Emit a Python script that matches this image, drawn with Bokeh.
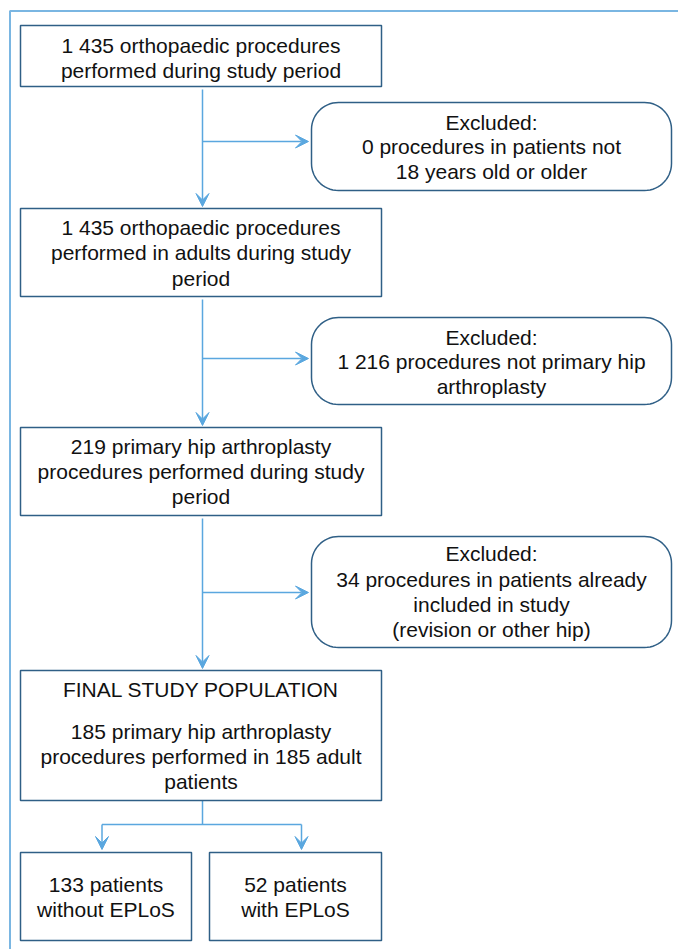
from bokeh.plotting import figure
from bokeh.models import Range1d, Arrow, VeeHead, ColumnDataSource
from bokeh.core.properties import value
from bokeh.embed import file_html
from bokeh.resources import INLINE
import numpy as np

# ---- content ----
main_texts = [
    ["1 435 orthopaedic procedures", "performed during study period"],
    ["1 435 orthopaedic procedures", "performed in adults during study", "period"],
    ["219 primary hip arthroplasty", "procedures performed during study", "period"],
    ["FINAL STUDY POPULATION", "", "185 primary hip arthroplasty", "procedures performed in 185 adult", "patients"],
]
excl_texts = [
    ["Excluded:", "0 procedures in patients not", "18 years old or older"],
    ["Excluded:", "1 216 procedures not primary hip", "arthroplasty"],
    ["Excluded:", "34 procedures in patients already", "included in study", "(revision or other hip)"],
]
split_texts = [
    ["133 patients", "without EPLoS"],
    ["52 patients", "with EPLoS"],
]

# ---- layout (page pixels) ----
main_boxes = [(20, 381, 25, 86), (20, 381, 208, 296), (20, 381, 427, 515), (20, 381, 670, 800)]
main_lines_y = [[45, 70], [227, 252, 278], [446, 471, 496], [689, 708, 731, 756, 781]]
excl_boxes = [(311, 671, 102, 190), (311, 671, 317, 404), (311, 671, 536, 647)]
excl_lines_y = [[122, 146, 171], [337, 361, 386], [553, 579, 604, 629]]
branch_y = [141, 358, 592]
split_boxes = [(20, 191, 852, 940), (209, 381, 852, 940)]
split_lines_y = [[884, 909], [884, 909]]
spine_x = 202

FONT = "Liberation Sans"
FS = "21px"
TXT = "#111111"
BOX = "#2f5f86"
ARROW = "#5aa7df"
FRAME = "#7ab6e2"

p = figure(width=678, height=949, output_backend="svg", toolbar_location=None,
           x_range=Range1d(0, 678), y_range=Range1d(949, 0), min_border=0)
p.axis.visible = False
p.grid.visible = False
p.outline_line_color = None
p.background_fill_color = "white"

# outer frame
p.line([9.5, 9.5, 678], [949, 10.5, 10.5], line_color=FRAME, line_width=2)

def rounded(x0, x1, y0, y1, r, n=16):
    xs, ys = [], []
    corners = [(x1 - r, y0 + r, -90, 0), (x1 - r, y1 - r, 0, 90),
               (x0 + r, y1 - r, 90, 180), (x0 + r, y0 + r, 180, 270)]
    for cx, cy, a0, a1 in corners:
        t = np.radians(np.linspace(a0, a1, n))
        xs += list(cx + r * np.cos(t))
        ys += list(cy + r * np.sin(t))
    return xs, ys

def arrow(x0, y0, x1, y1):
    p.add_layout(Arrow(x_start=x0, y_start=y0, x_end=x1, y_end=y1,
                       line_color=ARROW, line_width=1.5,
                       end=VeeHead(size=13, fill_color=ARROW, line_color=ARROW, line_width=1)))

# connectors
for i in range(3):
    arrow(spine_x, main_boxes[i][3] + 3, spine_x, main_boxes[i + 1][2] - 2)
    arrow(spine_x, branch_y[i], excl_boxes[i][0] - 3, branch_y[i])

split_y = 824
p.line([spine_x, spine_x], [main_boxes[3][3], split_y], line_color=ARROW, line_width=1.5)
cx_left = (split_boxes[0][0] + split_boxes[0][1]) / 2 - 4
cx_right = (split_boxes[1][0] + split_boxes[1][1]) / 2 + 6
p.line([cx_left, cx_right], [split_y, split_y], line_color=ARROW, line_width=1.5)
arrow(cx_left, split_y, cx_left, split_boxes[0][2] - 3)
arrow(cx_right, split_y, cx_right, split_boxes[1][2] - 3)

# boxes
all_rect = main_boxes + split_boxes
p.quad(left=[b[0] for b in all_rect], right=[b[1] for b in all_rect],
       top=[b[2] for b in all_rect], bottom=[b[3] for b in all_rect],
       fill_color="white", line_color=BOX, line_width=1.5)
for b in excl_boxes:
    xs, ys = rounded(b[0], b[1], b[2], b[3], 27)
    p.patch(xs, ys, fill_color="white", line_color=BOX, line_width=1.5)

# texts
tx, ty, tt = [], [], []
for boxes, texts, ys in [(main_boxes, main_texts, main_lines_y),
                         (excl_boxes, excl_texts, excl_lines_y),
                         (split_boxes, split_texts, split_lines_y)]:
    for b, lines, yl in zip(boxes, texts, ys):
        for s, y in zip(lines, yl):
            if s:
                tx.append((b[0] + b[1]) / 2)
                ty.append(y)
                tt.append(s)
src = ColumnDataSource(dict(x=tx, y=ty, t=tt))
p.text(x="x", y="y", text="t", source=src, text_align="center", text_baseline="middle",
       text_font=value(FONT), text_font_size=FS, text_color=TXT)

open("out.html", "w").write(file_html(p, INLINE))
